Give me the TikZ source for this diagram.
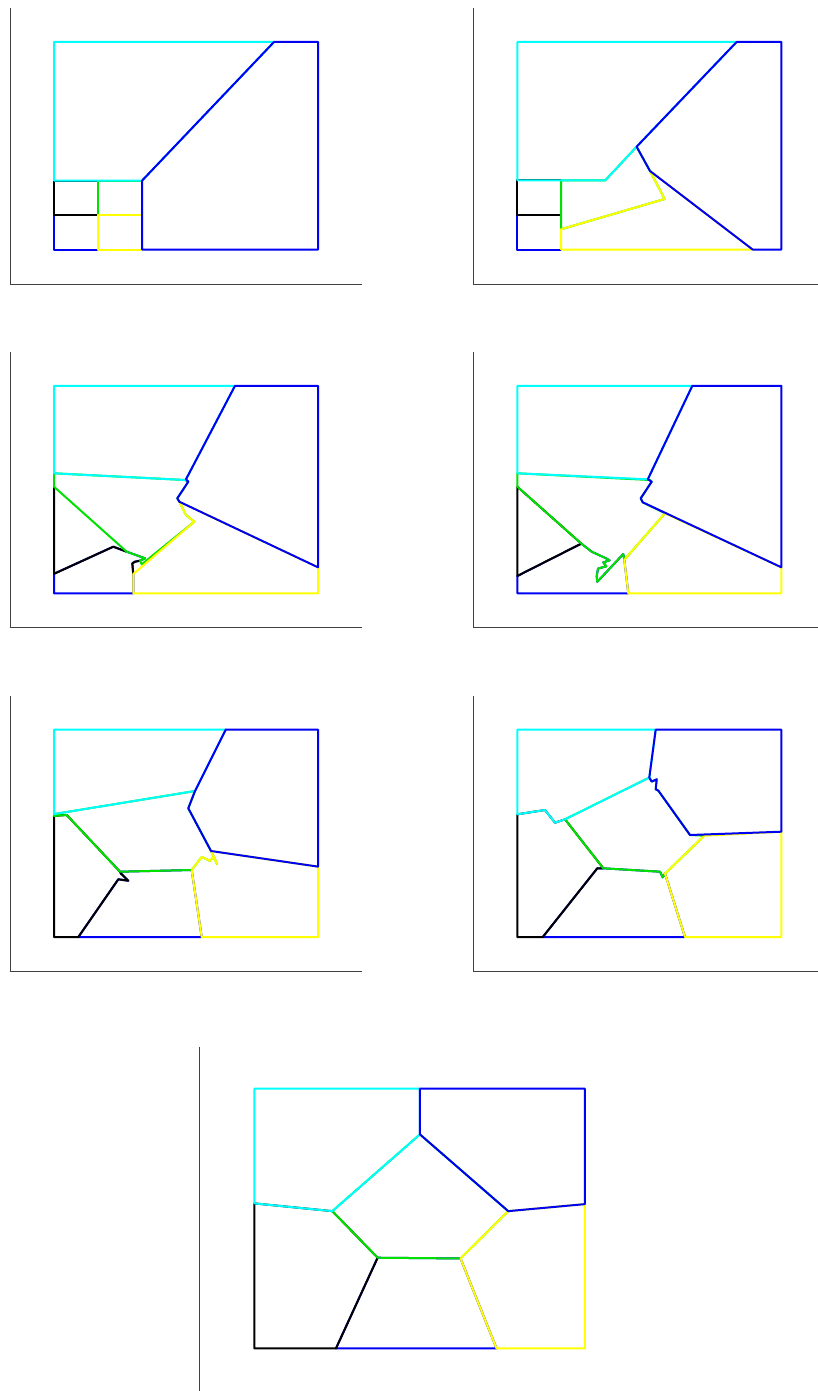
\documentclass[tikz,border=0pt]{standalone}
\usepackage{xcolor}
\usepackage{tikz}

\definecolor{regcyan}{RGB}{0,255,255}
\definecolor{regblue}{RGB}{0,0,245}
\definecolor{reggreen}{RGB}{0,225,0}
\definecolor{regyellow}{RGB}{255,255,0}
\definecolor{regblack}{RGB}{0,0,0}

\begin{document}
\begin{tikzpicture}[
    x=1pt, y=-1pt,
    axis/.style={
        draw=black!75,
        line width=0.9pt
    },
    region/.style={
        line width=2pt,
        line join=round
    },
    lowblue/.style={region, draw=regblue},
    blackreg/.style={region, draw=regblack},
    greenreg/.style={region, draw=reggreen},
    yellowreg/.style={region, draw=regyellow},
    cyanreg/.style={region, draw=regcyan},
    highblue/.style={region, draw=regblue}
]

\useasboundingbox (0,0) rectangle (818,1391);

% ------------------------------------------------------------
% Step 1 (top left)
% ------------------------------------------------------------

\begin{scope}
\draw[axis] (10,8) -- (10,284) -- (361.5,284);
\draw[lowblue] (54,215) -- (97.7,215) -- (97.7,249.5) -- (54,249.5) -- cycle;
\draw[blackreg] (54,180.7) -- (97.7,180.7) -- (97.7,215) -- (54,215) -- cycle;
\draw[greenreg] (97.7,180.7) -- (142,180.7) -- (142,215) -- (97.7,215) -- cycle;
\draw[yellowreg] (97.7,215) -- (142,215) -- (142,249.5) -- (97.7,249.5) -- cycle;
\draw[cyanreg] (54,42) -- (274,42) -- (142,180.7) -- (54,180.7) -- cycle;
\draw[highblue] (274,42) -- (318,42) -- (318,249.5) -- (142,249.5)
    -- (142,180.7) -- cycle;
\end{scope}

% ------------------------------------------------------------
% Step 2 (top right)
% ------------------------------------------------------------

\begin{scope}[shift={(463.3,0)}]
\draw[axis] (10,8) -- (10,284) -- (361.5,284);
\draw[lowblue] (54,215) -- (97.7,215) -- (97.7,249.5) -- (54,249.5) -- cycle;
\draw[blackreg] (54,180.3) -- (97.7,180.3) -- (97.7,215) -- (54,215) -- cycle;
\draw[greenreg] (97.7,180.3) -- (142,180.3) -- (173.3,146.7) -- (186.7,171)
    -- (201.3,199) -- (97.7,229.3) -- cycle;
\draw[yellowreg] (97.7,229.3) -- (201.3,199) -- (186.7,171) -- (289.3,249.5)
    -- (97.7,249.5) -- cycle;
\draw[cyanreg] (54,42) -- (273.3,42) -- (173.3,146.7) -- (142,180.3)
    -- (54,180.3) -- cycle;
\draw[highblue] (273.3,42) -- (318,42) -- (318,249.5) -- (289.3,249.5)
    -- (186.7,171) -- (173.3,146.7) -- cycle;
\end{scope}

% ------------------------------------------------------------
% Step 3 (second row, left)
% ------------------------------------------------------------

\begin{scope}[shift={(0,343.8)}]
\draw[axis] (10,8) -- (10,284) -- (361.5,284);
\draw[lowblue] (54,230) -- (113.3,202.9) -- (126.7,207.9) -- (145,214.5)
    -- (140,216.9) -- (135,217.9) -- (132.3,219.5) -- (133.3,230.2)
    -- (133.3,249.5) -- (54,249.5) -- cycle;
\draw[blackreg] (54,142.9) -- (54,230) -- (113.3,202.9) -- (126.7,207.9);
\draw[blackreg] (140,216.9) -- (135,217.9) -- (132.3,219.5) -- (133.3,230.2);
\draw[greenreg] (54,129.5) -- (185,136.2) -- (188.3,137.9) -- (177.3,154.5)
    -- (179.3,157.9) -- (186,171.2) -- (194.3,177.9) -- (141.7,220.5)
    -- (140,216.9) -- (145,214.5) -- (126.7,207.9) -- (54,142.9) -- cycle;
\draw[yellowreg] (179.3,157.9) -- (186,171.2) -- (194.3,177.9) -- (133.3,230.2)
    -- (133.3,249.5) -- (318,249.5) -- (318,223.5) -- cycle;
\draw[cyanreg] (54,42) -- (235,42) -- (186,135.5) -- (185,136.2)
    -- (54,129.5) -- cycle;
\draw[highblue] (235,42) -- (318,42) -- (318,223.5) -- (179.3,157.9)
    -- (177.3,154.5) -- (188.3,137.9) -- (186,135.5) -- cycle;
\end{scope}

% ------------------------------------------------------------
% Step 4 (second row, right)
% ------------------------------------------------------------

\begin{scope}[shift={(463.3,343.8)}]
\draw[axis] (10,8) -- (10,284) -- (361.5,284);
\draw[lowblue] (54,232.2) -- (118,199.8) -- (128.4,207.9) -- (142.7,214.5)
    -- (146.3,216.5) -- (140,218.6) -- (143,222.5) -- (134.7,224.8)
    -- (133.4,232.5) -- (134,238) -- (160,210.2) -- (161,216)
    -- (165,249.5) -- (54,249.5) -- cycle;
\draw[blackreg] (54,142.9) -- (118,199.8) -- (54,232.2) -- cycle;
\draw[greenreg] (54,129.5) -- (186.7,136.2) -- (188.4,137.9) -- (177.4,154.5)
    -- (179.4,158.5) -- (201.7,169.5) -- (161,216) -- (160,210.2)
    -- (134,238) -- (133.4,232.5) -- (134.7,224.8) -- (143,222.5)
    -- (140,218.6) -- (146.3,216.5) -- (142.7,214.5) -- (128.4,207.9)
    -- (118,199.8) -- (54,142.9) -- cycle;
\draw[yellowreg] (201.7,169.5) -- (318,223.5) -- (318,249.5) -- (165,249.5)
    -- (161,216) -- cycle;
\draw[cyanreg] (54,42) -- (229,42) -- (184.5,135.5) -- (54,129.5) -- cycle;
\draw[highblue] (229,42) -- (318,42) -- (318,223.5) -- (179.4,158.5)
    -- (177.4,154.5) -- (188.4,137.9) -- (184.5,135.5) -- cycle;
\end{scope}

% ------------------------------------------------------------
% Step 5 (third row, left)
% ------------------------------------------------------------

\begin{scope}[shift={(0,687.6)}]
\draw[axis] (10,8) -- (10,284) -- (361.5,284);
\draw[lowblue] (78.3,249.5) -- (118.3,191.7) -- (128.3,193.1) -- (121,186)
    -- (120,184.1) -- (191.7,182.4) -- (201.7,249.5) -- cycle;
\draw[blackreg] (54,128.3) -- (66.7,127.4) -- (120,184.1) -- (121,186)
    -- (128.3,193.1) -- (118.3,191.7) -- (78.3,249.5) -- (54,249.5) -- cycle;
\draw[greenreg] (54,126.5) -- (195,103.4) -- (188.3,120.7) -- (211,163.4)
    -- (217,176.5) -- (214,169) -- (210,173.3) -- (201.7,169.3)
    -- (191.7,182.4) -- (120,184.1) -- (66.7,127.4) -- (54,128.3) -- cycle;
\draw[yellowreg] (191.7,182.4) -- (201.7,169.3) -- (210,173.3) -- (214,169)
    -- (217,176.5) -- (211,163.4) -- (318,179) -- (318,249.5)
    -- (201.7,249.5) -- cycle;
\draw[cyanreg] (54,42) -- (225.7,42) -- (195,103.4) -- (54,126.5) -- cycle;
\draw[highblue] (225.7,42) -- (318,42) -- (318,179) -- (211,163.4)
    -- (188.3,120.7) -- (195,103.4) -- cycle;
\end{scope}

% ------------------------------------------------------------
% Step 6 (third row, right)
% ------------------------------------------------------------

\begin{scope}[shift={(463.3,687.6)}]
\draw[axis] (10,8) -- (10,284) -- (361.5,284);
\draw[lowblue] (79.4,249.5) -- (134,180.7) -- (140,180.7) -- (196.7,184.1)
    -- (199.4,189.7) -- (201.7,186) -- (221.7,249.5) -- cycle;
\draw[blackreg] (54,126.7) -- (81.7,122.4) -- (91.7,135.1) -- (101.7,131.7)
    -- (140,180.7) -- (134,180.7) -- (79.4,249.5) -- (54,249.5) -- cycle;
\draw[greenreg] (101.7,131.7) -- (186,90) -- (188.4,94) -- (193.4,91.7)
    -- (192.4,101.7) -- (195,103) -- (226.7,147.4) -- (241,148.1)
    -- (201.7,186) -- (199.4,189.7) -- (196.7,184.1) -- (140,180.7) -- cycle;
\draw[yellowreg] (241,148.1) -- (318,144.1) -- (318,249.5) -- (221.7,249.5)
    -- (201.7,186) -- cycle;
\draw[cyanreg] (54,42) -- (192.4,42) -- (186,90) -- (101.7,131.7)
    -- (91.7,135.1) -- (81.7,122.4) -- (54,126.7) -- cycle;
\draw[highblue] (192.4,42) -- (318,42) -- (318,144.1) -- (226.7,147.4)
    -- (195,103) -- (192.4,101.7) -- (193.4,91.7) -- (188.4,94)
    -- (186,90) -- cycle;
\end{scope}

% ------------------------------------------------------------
% Final step (bottom, larger)
% ------------------------------------------------------------

\begin{scope}[shift={(186.7,1036.1)}, scale=1.252]
\draw[axis] (10.5,8.3) -- (10.5,284);
\draw[lowblue] (119.2,249.5) -- (152.5,177) -- (218.7,177.6) -- (247.5,249.5) -- cycle;
\draw[blackreg] (54,133.6) -- (116.3,139.8) -- (152.5,177) -- (119.2,249.5)
    -- (54,249.5) -- cycle;
\draw[greenreg] (116.3,139.8) -- (186.3,78.5) -- (256.8,139.8) -- (218.7,177.6)
    -- (152.5,177) -- cycle;
\draw[yellowreg] (256.8,139.8) -- (318,134.2) -- (318,249.5) -- (247.5,249.5)
    -- (218.7,177.6) -- cycle;
\draw[cyanreg] (54,42) -- (186.3,42) -- (186.3,78.5) -- (116.3,139.8)
    -- (54,133.6) -- cycle;
\draw[highblue] (186.3,42) -- (318,42) -- (318,134.2) -- (256.8,139.8)
    -- (186.3,78.5) -- cycle;
\end{scope}

\end{tikzpicture}
\end{document}
